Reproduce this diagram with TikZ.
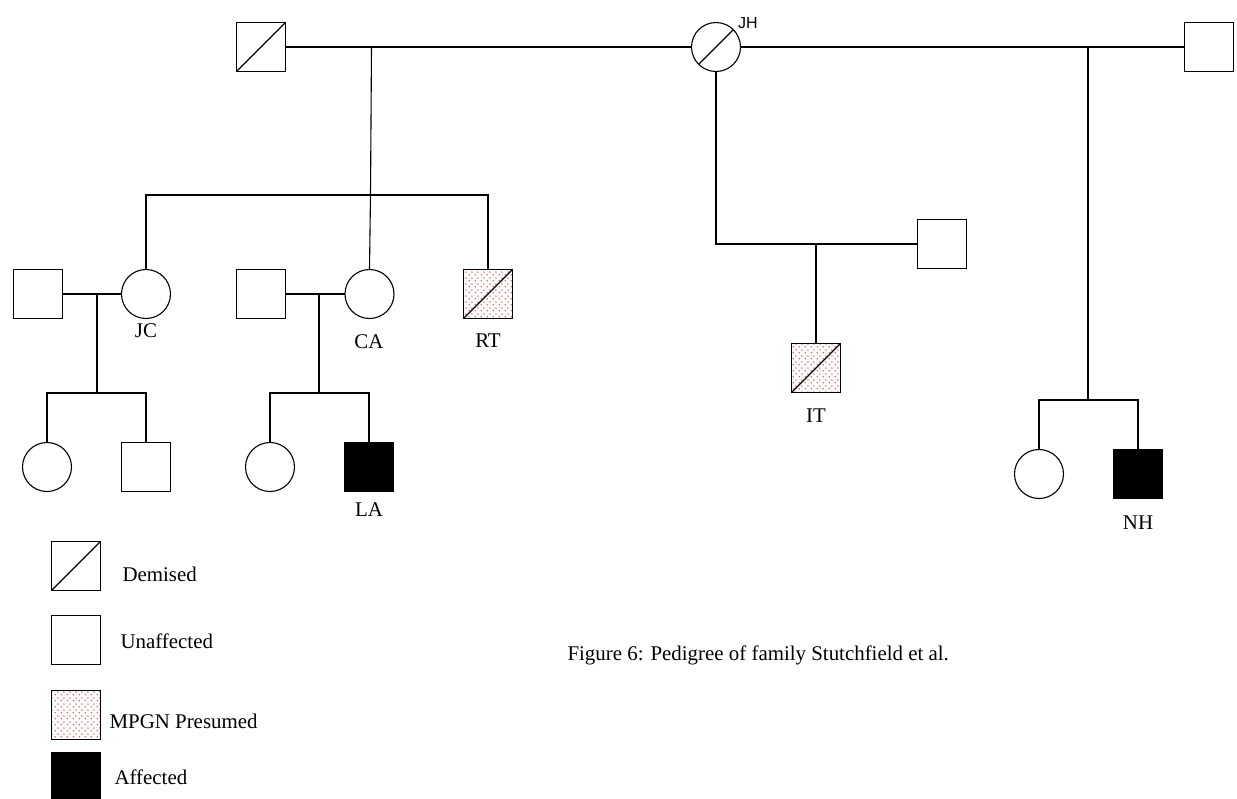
\documentclass[tikz,border=0pt]{standalone}
\usepackage{fontspec}
\setmainfont{Liberation Serif}
\newfontfamily\labelsans{Liberation Sans}
\usetikzlibrary{patterns.meta}

\definecolor{dotred}{RGB}{222,96,96}

% staggered dot fill for presumed carriers
\tikzdeclarepattern{
  name=pinkdots,
  type=uncolored,
  bounding box={(0pt,0pt) and (6pt,6pt)},
  tile size={(6pt,6pt)},
  code={
    \fill (1.5pt,1.5pt) circle (0.95pt);
    \fill (4.5pt,4.5pt) circle (0.95pt);
  }
}

\tikzset{
  male/.style={draw, rectangle, minimum size=49pt, inner sep=0pt, outer sep=0pt},
  female/.style={draw, circle, minimum size=49pt, inner sep=0pt, outer sep=0pt},
  affected/.style={fill=black},
  presumed/.style={pattern={pinkdots}, pattern color=dotred},
  tag/.style={font=\fontsize{20.9}{24}\selectfont, inner sep=0pt, anchor=base},
  keytext/.style={font=\fontsize{20.9}{24}\selectfont, inner sep=0pt, anchor=base west},
}

\begin{document}
\begin{tikzpicture}[x=1pt, y=-1pt, line width=1.1pt]
\fill[white] (0,0) rectangle (1237,798);
\useasboundingbox (0,0) rectangle (1237,798);

% first generation
\node[male] (gfL) at (261,47) {};
\node[female] (JH) at (716,47) {};
\node[male] (gfR) at (1209,47) {};
\node[male] (gfM) at (942,244) {};
\node[font=\labelsans\fontsize{16}{18}\selectfont, inner sep=0pt, anchor=base] (lJH) at (748,28) {JH};

% second generation
\node[male] (JCsp) at (38,294) {};
\node[female] (JC) at (146,294) {};
\node[male] (CAsp) at (261,294) {};
\node[female] (CA) at (369.5,294) {};
\node[male, presumed] (RT) at (488,294) {};
\node[male, presumed] (IT) at (816,368) {};

% third generation
\node[female] (JCd) at (47,467) {};
\node[male] (JCs) at (146,467) {};
\node[female] (CAd) at (270,467) {};
\node[male, affected] (LA) at (369,467) {};
\node[female] (NHs) at (1039,474) {};
\node[male, affected] (NH) at (1138,474) {};

% name labels
\node[tag] (lJC) at (146,337) {JC};
\node[tag] (lCA) at (369,348) {CA};
\node[tag] (lRT) at (488,347) {RT};
\node[tag] (lIT) at (816,422) {IT};
\node[tag] (lLA) at (369,516) {LA};
\node[tag] (lNH) at (1138,529) {NH};

% deceased marks
\draw (gfL.south west) -- (gfL.north east);
\draw (JH.225) -- (JH.45);
\draw (RT.south west) -- (RT.north east);
\draw (IT.south west) -- (IT.north east);

% marriages and descent lines
\draw (gfL) -- (JH);
\draw (JH) -- (gfR);

\coordinate (d1) at (371.5,47);
\coordinate (s1) at (370.5,195);
\draw (d1) -- (s1) -- (CA.north);
\draw (JC.north) |- (s1) -| (RT.north);

\draw (JCsp) -- (JC);
\coordinate (m1) at (97,294);
\coordinate (c1) at (97,393);
\draw (m1) -- (c1);
\draw (JCd.north) |- (c1) -| (JCs.north);

\draw (CAsp) -- (CA);
\coordinate (m2) at (319,294);
\coordinate (c2) at (319,393);
\draw (m2) -- (c2);
\draw (CAd.north) |- (c2) -| (LA.north);

\draw (JH.south) |- (gfM.west);
\coordinate (m3) at (816,244);
\draw (m3) -- (IT.north);

\coordinate (d3) at (1088,47);
\coordinate (c3) at (1088,400);
\draw (d3) -- (c3);
\draw (NHs.north) |- (c3) -| (NH.north);

% key
\node[male] (kDem) at (76,566) {};
\draw (kDem.south west) -- (kDem.north east);
\node[keytext] (tDem) at (122,581) {Demised};
\node[male] (kUna) at (76,640) {};
\node[keytext] (tUna) at (120,648) {Unaffected};
\node[male, presumed] (kMP) at (76,715) {};
\node[keytext] (tMP) at (109,728) {MPGN Presumed};
\node[male, affected] (kAff) at (76,777) {};
\node[keytext] (tAff) at (114,784) {Affected};

% caption
\node[keytext] (cap) at (567,660) {Figure 6: Pedigree of family Stutchfield et al.};
\end{tikzpicture}
\end{document}
